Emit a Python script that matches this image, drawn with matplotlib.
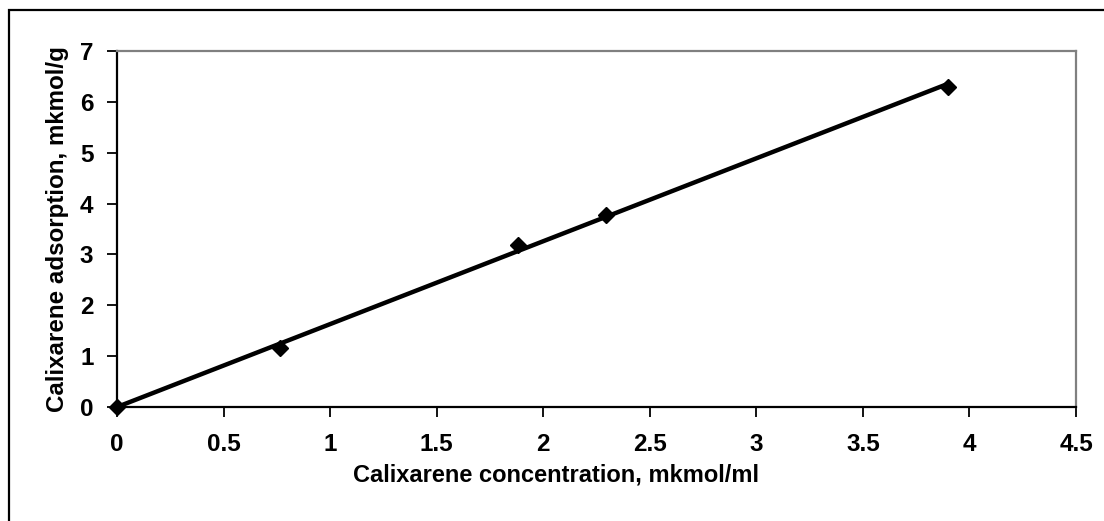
import numpy as np
import matplotlib
matplotlib.use("Agg")
import matplotlib.pyplot as plt
from matplotlib.patches import Rectangle

conc = [0.0, 0.765, 1.88, 2.295, 3.9]
adsorption = [0.0, 1.16, 3.18, 3.77, 6.3]
xticks = [0, 0.5, 1, 1.5, 2, 2.5, 3, 3.5, 4, 4.5]
yticks = [0, 1, 2, 3, 4, 5, 6, 7]

plt.rcParams['font.family'] = ['Liberation Sans', 'DejaVu Sans']
plt.rcParams['font.weight'] = 'bold'

fig = plt.figure(figsize=(11.04, 5.21), dpi=100)
ax = fig.add_axes([117/1104, 1 - 407/521, (1076 - 117)/1104, (407 - 51)/521])

x = np.array(conc)
y = np.array(adsorption)
slope = np.sum(x * y) / np.sum(x * x)
xl = np.array([0, x.max()])
ax.plot(x, y, linestyle='none', marker='D', ms=8.5, color='black', zorder=2, clip_on=False)
ax.plot(xl, slope * xl, color='black', lw=3.2, zorder=3, solid_capstyle='butt')

ax.set_xlim(0, 4.5)
ax.set_ylim(0, 7)
ax.set_xticks(xticks)
ax.set_xticklabels([f"{t:g}" for t in xticks])
ax.set_yticks(yticks)
ax.tick_params(direction='out', length=7, width=1.3, labelsize=17.5)
ax.tick_params(axis='y', pad=10)
ax.tick_params(axis='x', pad=12)
for lab in ax.get_xticklabels() + ax.get_yticklabels():
    lab.set_fontweight('bold')

for s in ['top', 'right']:
    ax.spines[s].set_color('#808080')
    ax.spines[s].set_linewidth(1.6)
for s in ['left', 'bottom']:
    ax.spines[s].set_color('black')
    ax.spines[s].set_linewidth(1.6)

ax.set_xlabel('Calixarene concentration, mkmol/ml', fontsize=17, fontweight='bold')
ax.xaxis.set_label_coords(0.458, -0.16)
ax.set_ylabel('Calixarene adsorption, mkmol/g', fontsize=17.4, fontweight='bold', labelpad=8)

fig.patches.append(Rectangle((9/1104, -0.1), 1.2, 1 - 10/521 + 0.1, transform=fig.transFigure,
                             fill=False, edgecolor='black', lw=1.6))

fig.savefig('out.png', dpi=100)
